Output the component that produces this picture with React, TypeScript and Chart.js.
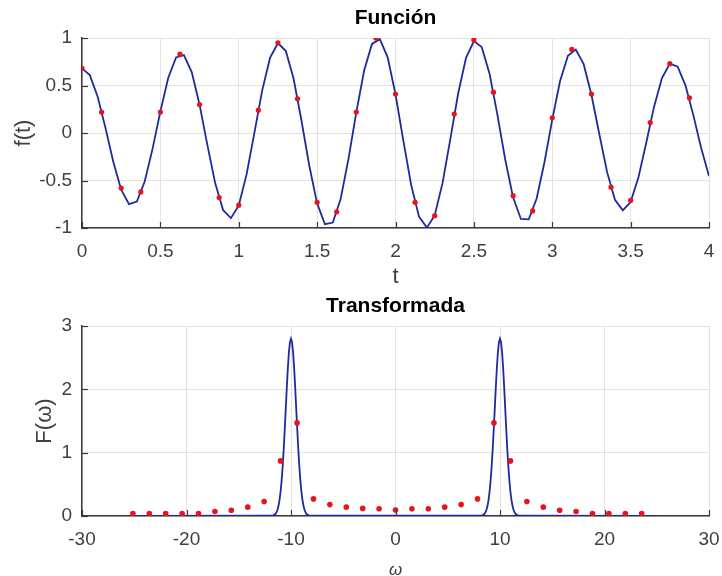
import React, { useEffect, useRef } from "react";
import { Chart, registerables } from "chart.js";

Chart.register(...registerables);

// ---------- Data: top subplot (Función) ----------
const tLine: number[] = [
  0, 0.05, 0.1, 0.15, 0.2, 0.25, 0.3, 0.35, 0.4, 0.45,
  0.5, 0.55, 0.6, 0.65, 0.7, 0.75, 0.8, 0.85, 0.9, 0.95,
  1.0, 1.05, 1.1, 1.15, 1.2, 1.25, 1.3, 1.35, 1.4, 1.45,
  1.5, 1.55, 1.6, 1.65, 1.7, 1.75, 1.8, 1.85, 1.9, 1.95,
  2.0, 2.05, 2.1, 2.15, 2.2, 2.25, 2.3, 2.35, 2.4, 2.45,
  2.5, 2.55, 2.6, 2.65, 2.7, 2.75, 2.8, 2.85, 2.9, 2.95,
  3.0, 3.05, 3.1, 3.15, 3.2, 3.25, 3.3, 3.35, 3.4, 3.45,
  3.5, 3.55, 3.6, 3.65, 3.7, 3.75, 3.8, 3.85, 3.9, 3.95,
  4.0,
];
const fLine: number[] = [
  0.68, 0.609, 0.382, 0.051, -0.305, -0.597, -0.749, -0.721, -0.511, -0.167,
  0.228, 0.579, 0.795, 0.819, 0.641, 0.298, -0.127, -0.53, -0.811, -0.896,
  -0.762, -0.436, 0.004, 0.451, 0.793, 0.945, 0.866, 0.571, 0.132, -0.345,
  -0.741, -0.96, -0.943, -0.694, -0.273, 0.218, 0.658, 0.938, 0.988, 0.796,
  0.408, -0.08, -0.547, -0.88, -0.996, -0.868, -0.528, -0.061, 0.418, 0.791,
  0.967, 0.906, 0.625, 0.194, -0.279, -0.677, -0.905, -0.909, -0.692, -0.31,
  0.14, 0.547, 0.814, 0.878, 0.727, 0.403, -0.011, -0.412, -0.703, -0.814,
  -0.727, -0.467, -0.1, 0.28, 0.579, 0.73, 0.699, 0.501, 0.188, -0.158,
  -0.454,
];
const tSamples: number[] = [
  0, 0.125, 0.25, 0.375, 0.5, 0.625, 0.75, 0.875,
  1.0, 1.125, 1.25, 1.375, 1.5, 1.625, 1.75, 1.875,
  2.0, 2.125, 2.25, 2.375, 2.5, 2.625, 2.75, 2.875,
  3.0, 3.125, 3.25, 3.375, 3.5, 3.625, 3.75, 3.875,
];
const fSamples: number[] = [
  0.68, 0.22, -0.58, -0.62, 0.22, 0.83, 0.3, -0.68,
  -0.76, 0.24, 0.95, 0.36, -0.73, -0.83, 0.22, 1.0,
  0.41, -0.73, -0.87, 0.2, 0.98, 0.43, -0.66, -0.82,
  0.16, 0.88, 0.41, -0.57, -0.71, 0.11, 0.73, 0.37,
];

// ---------- Data: bottom subplot (Transformada) ----------
const wLine: number[] = [
  -25,
  -11.8, -11.7, -11.6, -11.5, -11.4, -11.3, -11.2, -11.1, -11.0, -10.9, -10.8, -10.7, -10.6, -10.5, -10.4, -10.3, -10.2, -10.1,
  -10.0,
  -9.9, -9.8, -9.7, -9.6, -9.5, -9.4, -9.3, -9.2, -9.1, -9.0, -8.9, -8.8, -8.7, -8.6, -8.5, -8.4, -8.3, -8.2,
  8.2, 8.3, 8.4, 8.5, 8.6, 8.7, 8.8, 8.9, 9.0, 9.1, 9.2, 9.3, 9.4, 9.5, 9.6, 9.7, 9.8, 9.9,
  10.0,
  10.1, 10.2, 10.3, 10.4, 10.5, 10.6, 10.7, 10.8, 10.9, 11.0, 11.1, 11.2, 11.3, 11.4, 11.5, 11.6, 11.7, 11.8,
  25,
];
const FLine: number[] = [
  0,
  0.004, 0.009, 0.017, 0.031, 0.056, 0.095, 0.157, 0.249, 0.379, 0.554, 0.778, 1.051, 1.363, 1.698, 2.033, 2.339, 2.585, 2.745,
  2.8,
  2.745, 2.585, 2.339, 2.033, 1.698, 1.363, 1.051, 0.778, 0.554, 0.379, 0.249, 0.157, 0.095, 0.056, 0.031, 0.017, 0.009, 0.004,
  0.004, 0.009, 0.017, 0.031, 0.056, 0.095, 0.157, 0.249, 0.379, 0.554, 0.778, 1.051, 1.363, 1.698, 2.033, 2.339, 2.585, 2.745,
  2.8,
  2.745, 2.585, 2.339, 2.033, 1.698, 1.363, 1.051, 0.778, 0.554, 0.379, 0.249, 0.157, 0.095, 0.056, 0.031, 0.017, 0.009, 0.004,
  0,
];
const wSamples: number[] = [
  -25.13, -23.56, -21.99, -20.42, -18.85, -17.28, -15.71, -14.14,
  -12.57, -11.0, -9.42, -7.85, -6.28, -4.71, -3.14, -1.57,
  0, 1.57, 3.14, 4.71, 6.28, 7.85, 9.42, 11.0,
  12.57, 14.14, 15.71, 17.28, 18.85, 20.42, 21.99, 23.56,
];
const FSamples: number[] = [
  0.04, 0.04, 0.04, 0.04, 0.04, 0.07, 0.09, 0.14,
  0.23, 0.87, 1.47, 0.27, 0.18, 0.14, 0.12, 0.115,
  0.095, 0.115, 0.115, 0.14, 0.18, 0.27, 1.47, 0.87,
  0.23, 0.14, 0.09, 0.07, 0.04, 0.04, 0.04, 0.04,
];

// ---------- Styling ----------
const FONT = "'Liberation Sans', Arial, Helvetica, sans-serif";
const AXIS_COLOR = "#3a3a3a";
const TEXT_COLOR = "#404040";
const GRID_COLOR = "#e3e3e3";
const LINE_COLOR = "#1f2a9c";
const DOT_COLOR = "#e8141c";

const zip = (xs: number[], ys: number[]) => xs.map((x, i) => ({ x, y: ys[i] }));
const fmt = (v: number) => String(Math.round(v * 1000) / 1000);

const inwardTicks = {
  id: "inwardTicks",
  afterDatasetsDraw(chart: any) {
    const { ctx, chartArea, scales } = chart;
    const xs = scales.x;
    const ys = scales.y;
    ctx.save();
    ctx.strokeStyle = AXIS_COLOR;
    ctx.lineWidth = 1.2;
    xs.ticks.forEach((t: any) => {
      const px = Math.round(xs.getPixelForValue(t.value)) + 0.5;
      ctx.beginPath();
      ctx.moveTo(px, chartArea.bottom);
      ctx.lineTo(px, chartArea.bottom - 6);
      ctx.stroke();
    });
    ys.ticks.forEach((t: any) => {
      const py = Math.round(ys.getPixelForValue(t.value)) + 0.5;
      ctx.beginPath();
      ctx.moveTo(chartArea.left, py);
      ctx.lineTo(chartArea.left + 6, py);
      ctx.stroke();
    });
    ctx.restore();
  },
};

type Cfg = {
  title: string;
  xTitle: string;
  xTitleFont: any;
  xTitlePad: number;
  yTitle: string;
  yTitlePad: number;
  xMin: number;
  xMax: number;
  xStep: number;
  yMin: number;
  yMax: number;
  yStep: number;
  line: { x: number; y: number }[];
  dots: { x: number; y: number }[];
  dotRadius: number;
};

function makeConfig(c: Cfg): any {
  return {
    type: "scatter",
    data: {
      datasets: [
        {
          data: c.dots,
          showLine: false,
          pointRadius: c.dotRadius,
          pointBackgroundColor: DOT_COLOR,
          pointBorderWidth: 0,
          borderColor: DOT_COLOR,
        },
        {
          data: c.line,
          showLine: true,
          pointRadius: 0,
          borderColor: LINE_COLOR,
          borderWidth: 1.8,
          tension: 0,
          fill: false,
        },
      ],
    },
    options: {
      animation: false,
      responsive: false,
      events: [],
      layout: { padding: { left: 0, right: 13, top: 0, bottom: 0 } },
      plugins: {
        legend: { display: false },
        tooltip: { enabled: false },
        title: {
          display: true,
          text: c.title,
          fullSize: false,
          color: "#000",
          font: { family: FONT, size: 21, weight: "bold", lineHeight: 1.2 },
          padding: { top: 5.4, bottom: 7.4 },
        },
      },
      scales: {
        x: {
          type: "linear",
          min: c.xMin,
          max: c.xMax,
          afterFit: (s: any) => {
            s.height = 60;
            s.paddingLeft = 0;
            s.paddingRight = 0;
          },
          ticks: {
            stepSize: c.xStep,
            color: TEXT_COLOR,
            font: { family: FONT, size: 19 },
            padding: 12,
            maxRotation: 0,
            callback: (v: number) => fmt(v),
          },
          grid: { color: GRID_COLOR, lineWidth: 1, drawTicks: false },
          border: { display: true, color: AXIS_COLOR, width: 1.5 },
          title: {
            display: true,
            text: c.xTitle,
            color: TEXT_COLOR,
            font: c.xTitleFont,
            padding: { top: 0, bottom: c.xTitlePad },
          },
        },
        y: {
          type: "linear",
          min: c.yMin,
          max: c.yMax,
          afterFit: (s: any) => {
            s.width = 82;
            s.paddingTop = 0;
            s.paddingBottom = 0;
          },
          ticks: {
            stepSize: c.yStep,
            color: TEXT_COLOR,
            font: { family: FONT, size: 19 },
            padding: 10,
            callback: (v: number) => fmt(v),
          },
          grid: { color: GRID_COLOR, lineWidth: 1, drawTicks: false },
          border: { display: true, color: AXIS_COLOR, width: 1.5 },
          title: {
            display: true,
            text: c.yTitle,
            color: TEXT_COLOR,
            font: { family: FONT, size: 22, lineHeight: 1.2 },
            padding: { top: c.yTitlePad, bottom: 0 },
          },
        },
      },
    },
    plugins: [inwardTicks],
  };
}

function ChartCanvas({ cfg, top }: { cfg: Cfg; top: number }) {
  const ref = useRef<HTMLCanvasElement | null>(null);
  useEffect(() => {
    if (!ref.current) return;
    const chart = new Chart(ref.current, makeConfig(cfg));
    return () => chart.destroy();
  }, []);
  return (
    <canvas
      ref={ref}
      width={722}
      height={288}
      style={{ position: "absolute", left: 0, top, width: 722, height: 288 }}
    />
  );
}

const topCfg: Cfg = {
  title: "Función",
  xTitle: "t",
  xTitleFont: { family: FONT, size: 22, lineHeight: 1.0 },
  xTitlePad: 0,
  yTitle: "f(t)",
  yTitlePad: 11,
  xMin: 0,
  xMax: 4,
  xStep: 0.5,
  yMin: -1,
  yMax: 1,
  yStep: 0.5,
  line: zip(tLine, fLine),
  dots: zip(tSamples, fSamples),
  dotRadius: 2.6,
};

const bottomCfg: Cfg = {
  title: "Transformada",
  xTitle: "ω",
  xTitleFont: { family: FONT, size: 17, style: "italic", lineHeight: 0.7 },
  xTitlePad: 0,
  yTitle: "F(ω)",
  yTitlePad: 32,
  xMin: -30,
  xMax: 30,
  xStep: 10,
  yMin: 0,
  yMax: 3,
  yStep: 1,
  line: zip(wLine, FLine),
  dots: zip(wSamples, FSamples),
  dotRadius: 2.8,
};

export default function App() {
  return (
    <div
      style={{
        position: "absolute",
        left: 0,
        top: 0,
        width: 722,
        height: 576,
        background: "#fff",
        overflow: "hidden",
      }}
    >
      <ChartCanvas cfg={topCfg} top={0} />
      <ChartCanvas cfg={bottomCfg} top={288} />
    </div>
  );
}
